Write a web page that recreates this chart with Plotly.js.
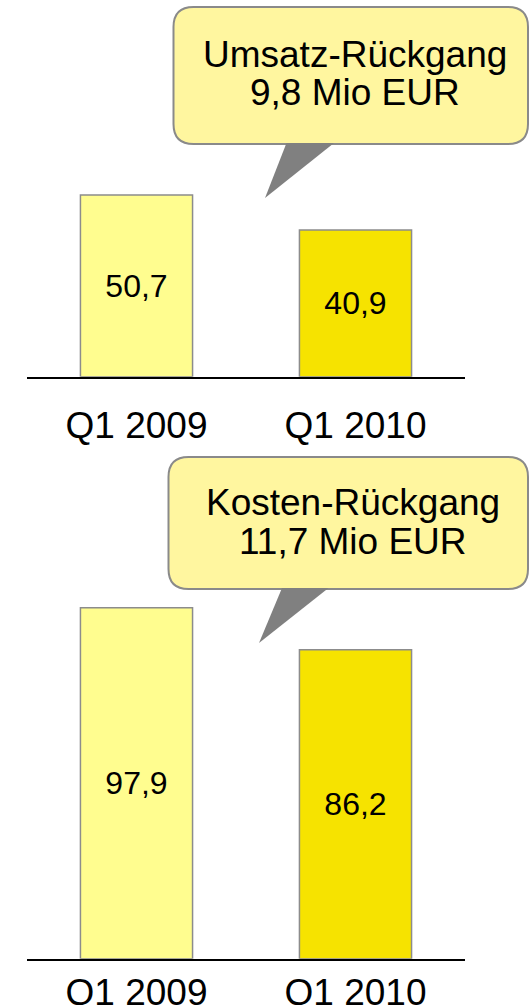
<!DOCTYPE html>
<html>
<head>
<meta charset="utf-8">
<script src="https://cdn.plot.ly/plotly-3.0.1.min.js"></script>
<style>html,body{margin:0;padding:0;background:#fff;}#chart{width:529px;height:1005px;}</style>
</head>
<body>
<div id="chart"></div>
<script>
// ---- data ----
const categories = ["Q1 2009", "Q1 2010"];
const umsatz = [50.7, 40.9];
const kosten = [97.9, 86.2];
const umsatzCallout = ["Umsatz-Rückgang", "9,8 Mio EUR"];
const kostenCallout = ["Kosten-Rückgang", "11,7 Mio EUR"];
const barColors = ["#FFFD8F", "#F6E300"];

// ---- helpers (pixel -> paper) ----
const W = 529, H = 1005;
const px = x => x / W;
const py = y => 1 - y / H;
function roundRect(x0, y0, x1, y1, r) {
  const p = (x, y) => px(x) + "," + py(y);
  return "M" + p(x0 + r, y0) + " L" + p(x1 - r, y0) + " Q" + p(x1, y0) + " " + p(x1, y0 + r) +
    " L" + p(x1, y1 - r) + " Q" + p(x1, y1) + " " + p(x1 - r, y1) +
    " L" + p(x0 + r, y1) + " Q" + p(x0, y1) + " " + p(x0, y1 - r) +
    " L" + p(x0, y0 + r) + " Q" + p(x0, y0) + " " + p(x0 + r, y0) + " Z";
}
function tri(a, b, c) {
  return "M" + px(a[0]) + "," + py(a[1]) + " L" + px(b[0]) + "," + py(b[1]) + " L" + px(c[0]) + "," + py(c[1]) + " Z";
}

const FONT = "Liberation Sans, Arial, sans-serif";

const common = {
  type: "bar",
  x: categories,
  width: 0.512,
  marker: { color: barColors, line: { color: "#8c8c8c", width: 1.5 } },
  texttemplate: "%{y:.1f}",
  textposition: "inside",
  insidetextanchor: "middle",
  textangle: 0,
  constraintext: "none",
  textfont: { family: FONT, size: 32, color: "#000" },
  hoverinfo: "skip",
  showlegend: false
};

const traces = [
  Object.assign({}, common, { y: umsatz, xaxis: "x", yaxis: "y" }),
  Object.assign({}, common, { y: kosten, xaxis: "x2", yaxis: "y2" })
];

const xbase = {
  type: "category",
  range: [-0.5, 1.5],
  domain: [px(27), px(465)],
  showline: true, linecolor: "#000", linewidth: 2,
  showgrid: false, zeroline: false, ticks: "",
  tickfont: { family: FONT, size: 37, color: "#000" },
  fixedrange: true
};
const ybase = { showgrid: false, zeroline: false, showline: false, showticklabels: false, ticks: "", fixedrange: true };

const calloutFill = "#FFF69F";
const calloutLine = "#8a8a8a";

const layout = {
  width: W, height: H,
  margin: { l: 0, r: 0, t: 0, b: 0 },
  paper_bgcolor: "#fff", plot_bgcolor: "rgba(0,0,0,0)",
  separators: ",.",
  font: { family: FONT, color: "#000" },
  xaxis: Object.assign({}, xbase, { anchor: "y", ticklabelstandoff: 15 }),
  yaxis: Object.assign({}, ybase, { anchor: "x", range: [0, 60], domain: [py(376.7), py(376.7 - 60 * 3.585)] }),
  xaxis2: Object.assign({}, xbase, { anchor: "y2", ticklabelstandoff: 0 }),
  yaxis2: Object.assign({}, ybase, { anchor: "x2", range: [0, 110], domain: [py(958.7), py(958.7 - 110 * 3.585)] }),
  shapes: [
    { type: "path", xref: "paper", yref: "paper", path: roundRect(173.5, 7, 528, 144, 20), fillcolor: calloutFill, line: { color: calloutLine, width: 2 }, layer: "above" },
    { type: "path", xref: "paper", yref: "paper", path: tri([286.5, 143], [334, 143], [265, 198]), fillcolor: "#808080", line: { width: 0 }, layer: "above" },
    { type: "path", xref: "paper", yref: "paper", path: roundRect(168.5, 457, 528, 589, 20), fillcolor: calloutFill, line: { color: calloutLine, width: 2 }, layer: "above" },
    { type: "path", xref: "paper", yref: "paper", path: tri([282, 588], [328.5, 588], [259, 643]), fillcolor: "#808080", line: { width: 0 }, layer: "above" }
  ],
  annotations: [
    { xref: "paper", yref: "paper", x: px(355), y: py(54), text: umsatzCallout[0], showarrow: false, xanchor: "center", yanchor: "middle", font: { family: FONT, size: 37, color: "#000" } },
    { xref: "paper", yref: "paper", x: px(355), y: py(93), text: umsatzCallout[1], showarrow: false, xanchor: "center", yanchor: "middle", font: { family: FONT, size: 37, color: "#000" } },
    { xref: "paper", yref: "paper", x: px(352.5), y: py(502), text: kostenCallout[0], showarrow: false, xanchor: "center", yanchor: "middle", font: { family: FONT, size: 37, color: "#000" } },
    { xref: "paper", yref: "paper", x: px(352.5), y: py(541), text: kostenCallout[1], showarrow: false, xanchor: "center", yanchor: "middle", font: { family: FONT, size: 37, color: "#000" } }
  ]
};

Plotly.newPlot("chart", traces, layout, { displayModeBar: false, staticPlot: true });
</script>
</body>
</html>
